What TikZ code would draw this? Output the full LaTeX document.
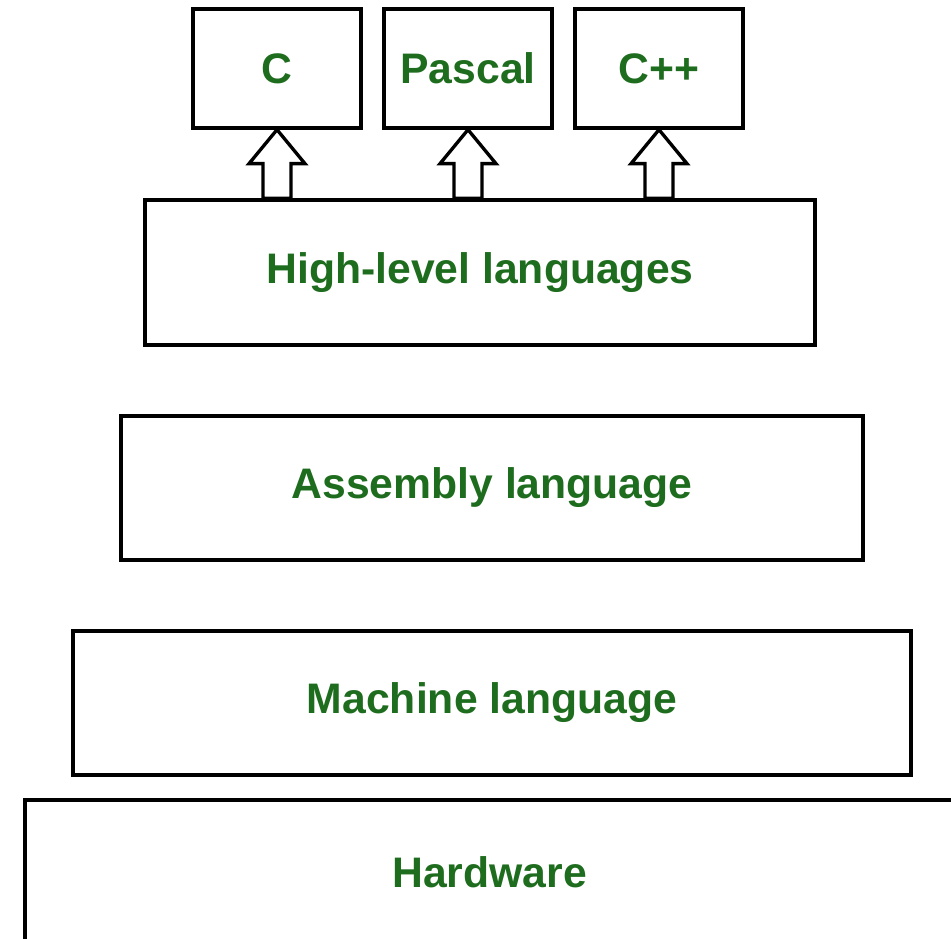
\documentclass[tikz,border=0pt]{standalone}
\usepackage{fontspec}
\setmainfont{Liberation Sans}
\usetikzlibrary{calc}
\definecolor{lblgreen}{RGB}{30,108,30}
\begin{document}
\begin{tikzpicture}[x=0.02cm, y=-0.02cm,
  box/.style={draw, line width=1.9pt, text=lblgreen,
    font=\bfseries\fontsize{24.3}{29}\selectfont, inner sep=0pt},
  hollowarrow/.style={draw, fill=white, line width=1.9pt, line join=miter}]
\clip (0,0) rectangle (951,938);
\node[box, minimum width=3.36cm, minimum height=2.38cm] at (277, 68.5) (c) {C};
\node[box, minimum width=3.36cm, minimum height=2.38cm] at (468, 68.5) (pascal) {Pascal};
\node[box, minimum width=3.36cm, minimum height=2.38cm] at (659, 68.5) (cpp) {C++};
\node[box, minimum width=13.4cm, minimum height=2.9cm] at (480, 272.5) (hll) {High-level languages};
\node[box, minimum width=14.84cm, minimum height=2.88cm] at (492, 488) (asm) {Assembly language};
\node[box, minimum width=16.76cm, minimum height=2.88cm] at (492, 703) (mach) {Machine language};
\node[box, minimum width=18.58cm, minimum height=2.9cm] at (489.5, 872.5) (hw) {Hardware};
\foreach \n in {c, pascal, cpp}
  \draw[hollowarrow] (\n.south) -- ++(28,34) -- ++(-14,0)
    -- ($(hll.north -| \n.south)+(14,0)$) -- ($(hll.north -| \n.south)+(-14,0)$)
    -- ($(\n.south)+(-14,34)$) -- ++(-14,0) -- cycle;
\end{tikzpicture}
\end{document}
